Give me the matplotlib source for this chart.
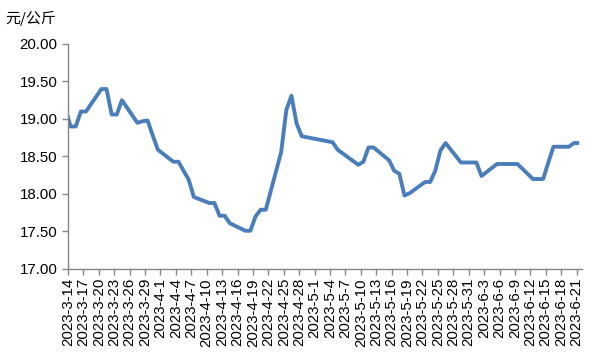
import matplotlib
matplotlib.use('Agg')
import matplotlib.pyplot as plt
import datetime as dt

plt.rcParams['font.family'] = ['Liberation Sans', 'Noto Sans CJK SC', 'DejaVu Sans']

# ---- data (price, 元/公斤) ----
dates = ['2023-03-13', '2023-03-14', '2023-03-15', '2023-03-16', '2023-03-17',
         '2023-03-20', '2023-03-21', '2023-03-22', '2023-03-23', '2023-03-24',
         '2023-03-27', '2023-03-28', '2023-03-29', '2023-03-30', '2023-03-31',
         '2023-04-03', '2023-04-04', '2023-04-06', '2023-04-07',
         '2023-04-10', '2023-04-11', '2023-04-12', '2023-04-13', '2023-04-14',
         '2023-04-17', '2023-04-18', '2023-04-19', '2023-04-20', '2023-04-21',
         '2023-04-24', '2023-04-25', '2023-04-26', '2023-04-27', '2023-04-28',
         '2023-05-04', '2023-05-05', '2023-05-09', '2023-05-10', '2023-05-11', '2023-05-12',
         '2023-05-15', '2023-05-16', '2023-05-17', '2023-05-18', '2023-05-19',
         '2023-05-22', '2023-05-23', '2023-05-24', '2023-05-25', '2023-05-26',
         '2023-05-29', '2023-05-30', '2023-05-31', '2023-06-01', '2023-06-02',
         '2023-06-05', '2023-06-06', '2023-06-07', '2023-06-08', '2023-06-09',
         '2023-06-12', '2023-06-13', '2023-06-14', '2023-06-15', '2023-06-16',
         '2023-06-19', '2023-06-20', '2023-06-21']
values = [19.14, 18.90, 18.90, 19.10, 19.10,
          19.40, 19.40, 19.06, 19.06, 19.25,
          18.95, 18.97, 18.98, 18.78, 18.59,
          18.43, 18.43, 18.19, 17.96,
          17.88, 17.88, 17.71, 17.71, 17.61,
          17.51, 17.51, 17.70, 17.79, 17.79,
          18.56, 19.12, 19.31, 18.94, 18.77,
          18.69, 18.59, 18.39, 18.43, 18.62, 18.62,
          18.45, 18.31, 18.27, 17.98, 18.01,
          18.16, 18.16, 18.31, 18.58, 18.68,
          18.42, 18.42, 18.42, 18.42, 18.24,
          18.40, 18.40, 18.40, 18.40, 18.40,
          18.20, 18.20, 18.20, 18.42, 18.63,
          18.63, 18.68, 18.68]

tick_labels = ['2023-3-14', '2023-3-17', '2023-3-20', '2023-3-23', '2023-3-26',
               '2023-3-29', '2023-4-1', '2023-4-4', '2023-4-7', '2023-4-10',
               '2023-4-13', '2023-4-16', '2023-4-19', '2023-4-22', '2023-4-25',
               '2023-4-28', '2023-5-1', '2023-5-4', '2023-5-7', '2023-5-10',
               '2023-5-13', '2023-5-16', '2023-5-19', '2023-5-22', '2023-5-25',
               '2023-5-28', '2023-5-31', '2023-6-3', '2023-6-6', '2023-6-9',
               '2023-6-12', '2023-6-15', '2023-6-18', '2023-6-21']
y_ticks = [17.0, 17.5, 18.0, 18.5, 19.0, 19.5, 20.0]
unit_label = '元/公斤'

start = dt.date(2023, 3, 14)
def day_of(s):
    y, m, d = (int(p) for p in s.split('-'))
    return (dt.date(y, m, d) - start).days

x = [day_of(s) + 0.5 for s in dates]
tick_pos = [day_of('2023-' + '-'.join(f"{int(p):02d}" for p in t.split('-')[1:])) for t in tick_labels]

fig = plt.figure(figsize=(6, 3.6), dpi=100)
ax = fig.add_axes([68/600, 1-269/360, (581.7-68)/600, (269-44)/360])

ax.plot(x, values, color='#4a7ebb', lw=2.8, solid_joinstyle='round', solid_capstyle='butt', clip_on=True)

ax.set_xlim(0, 100)
ax.set_ylim(17.0, 20.0)
ax.set_yticks(y_ticks)
ax.set_yticklabels([f"{v:.2f}" for v in y_ticks])
ax.set_xticks(tick_pos)
ax.set_xticklabels(tick_labels, rotation=90, ha='center', va='top')

axis_col = '#868686'
for s in ['top', 'right']:
    ax.spines[s].set_visible(False)
for s in ['left', 'bottom']:
    ax.spines[s].set_color(axis_col)
    ax.spines[s].set_linewidth(1.0)
ax.tick_params(axis='both', direction='out', length=4, width=1.0, color=axis_col,
               labelsize=10.8, labelcolor='black')
ax.tick_params(axis='y', pad=3.5)
ax.tick_params(axis='x', pad=2.5)

fig.text(5/600, 1-18/360, unit_label, fontsize=10.8, ha='left', va='center',
         family=['Noto Sans CJK SC', 'DejaVu Sans'])

fig.savefig('out.png', dpi=100)
